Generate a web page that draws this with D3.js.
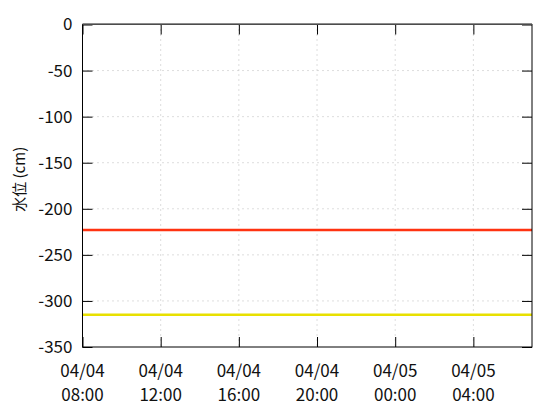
<!DOCTYPE html>
<html>
<head>
<meta charset="utf-8">
<script src="https://cdn.jsdelivr.net/npm/d3@7"></script>
<style>
  body { margin: 0; background: #fff; }
  text { font-family: "Noto Sans CJK JP", "Noto Sans", sans-serif; fill: #111; }
</style>
</head>
<body>
<div id="chart"></div>
<script>
// time range of the plot (04/04 08:00 -> 04/05 07:00)
var startTime = "2024-04-04T08:00";
var endTime = "2024-04-05T07:00";

// flat water-level series (cm)
var seriesNames = ["level1", "level2"];
var seriesColors = ["#ff3311", "#e8e000"];
var seriesValues = [-223, -315];

var yTicks = [0, -50, -100, -150, -200, -250, -300, -350];
var yLabel = "水位 (cm)";

var margin = {top: 24.5, right: 28, bottom: 73, left: 82.5},
    width = 560 - margin.left - margin.right,
    height = 420 - margin.top - margin.bottom;

var svg = d3.select("#chart").append("svg")
    .attr("width", 560)
    .attr("height", 420);

var g = svg.append("g").attr("transform", "translate(" + margin.left + "," + margin.top + ")");

var parse = d3.timeParse("%Y-%m-%dT%H:%M");
var t0 = parse(startTime), t1 = parse(endTime);

var x = d3.scaleTime().domain([t0, t1]).range([0, width]);
var y = d3.scaleLinear().domain([0, -350]).range([0, height]);

var xTicks = d3.timeHour.every(4).range(t0, t1);

// grid
g.selectAll(".ygrid").data(yTicks.filter(function(d) { return d != 0 && d != -350; }))
  .enter().append("line")
    .attr("x1", 0).attr("x2", width)
    .attr("y1", function(d) { return y(d); }).attr("y2", function(d) { return y(d); })
    .attr("stroke", "#bbb").attr("stroke-width", 1).attr("stroke-dasharray", "1,4");

g.selectAll(".xgrid").data(xTicks.slice(1))
  .enter().append("line")
    .attr("x1", function(d) { return x(d); }).attr("x2", function(d) { return x(d); })
    .attr("y1", 0).attr("y2", height)
    .attr("stroke", "#bbb").attr("stroke-width", 1).attr("stroke-dasharray", "1,4");

// series lines
var line = d3.line()
    .x(function(d) { return x(d.t); })
    .y(function(d) { return y(d.v); });

seriesValues.forEach(function(v, i) {
  g.append("path")
    .datum([{t: t0, v: v}, {t: t1, v: v}])
    .attr("d", line)
    .attr("fill", "none")
    .attr("stroke", seriesColors[i])
    .attr("stroke-width", 2.5);
});

// axes, ticks inward (mirrored)
var fmtDate = d3.timeFormat("%m/%d"), fmtTime = d3.timeFormat("%H:%M");

var yAxis = g.append("g").call(d3.axisLeft(y).tickValues(yTicks).tickSizeInner(-10).tickSizeOuter(0).tickPadding(10)
    .tickFormat(function(d) { return String(d); }));
yAxis.select(".domain").remove();
yAxis.selectAll("line").attr("stroke", "#000");
yAxis.selectAll("text").style("font-size", "17px").attr("fill", "#111");

var yAxisR = g.append("g").attr("transform", "translate(" + width + ",0)")
  .call(d3.axisRight(y).tickValues(yTicks).tickSizeInner(-10).tickSizeOuter(0).tickFormat(""));
yAxisR.select(".domain").remove();
yAxisR.selectAll("line").attr("stroke", "#000");

var xAxis = g.append("g").attr("transform", "translate(0," + height + ")")
  .call(d3.axisBottom(x).tickValues(xTicks).tickSizeInner(-10).tickSizeOuter(0).tickFormat(""));
xAxis.select(".domain").remove();
xAxis.selectAll("line").attr("stroke", "#000");

var xAxisT = g.append("g")
  .call(d3.axisTop(x).tickValues(xTicks).tickSizeInner(-10).tickSizeOuter(0).tickFormat(""));
xAxisT.select(".domain").remove();
xAxisT.selectAll("line").attr("stroke", "#000");

// axis groups set their own font; clear so the css font applies
svg.selectAll("g").attr("font-family", null).attr("font-size", null);

// two-line x labels
var xl = g.selectAll(".xlab").data(xTicks).enter().append("text")
    .attr("text-anchor", "middle")
    .style("font-size", "17px");
xl.append("tspan").attr("x", function(d) { return x(d); }).attr("y", height + 30).text(fmtDate);
xl.append("tspan").attr("x", function(d) { return x(d); }).attr("y", height + 54).text(fmtTime);

// border
g.append("rect").attr("width", width).attr("height", height)
  .attr("fill", "none").attr("stroke", "#000").attr("stroke-width", 1);
g.append("line").attr("x1", 0).attr("x2", width).attr("y1", -0.5).attr("y2", -0.5)
  .attr("stroke", "#666").attr("stroke-width", 1.5);

// y label
svg.append("text")
  .attr("transform", "translate(25," + (margin.top + y(-168)) + ") rotate(-90)")
  .attr("text-anchor", "middle")
  .style("font-size", "15px")
  .text(yLabel);
</script>
</body>
</html>
